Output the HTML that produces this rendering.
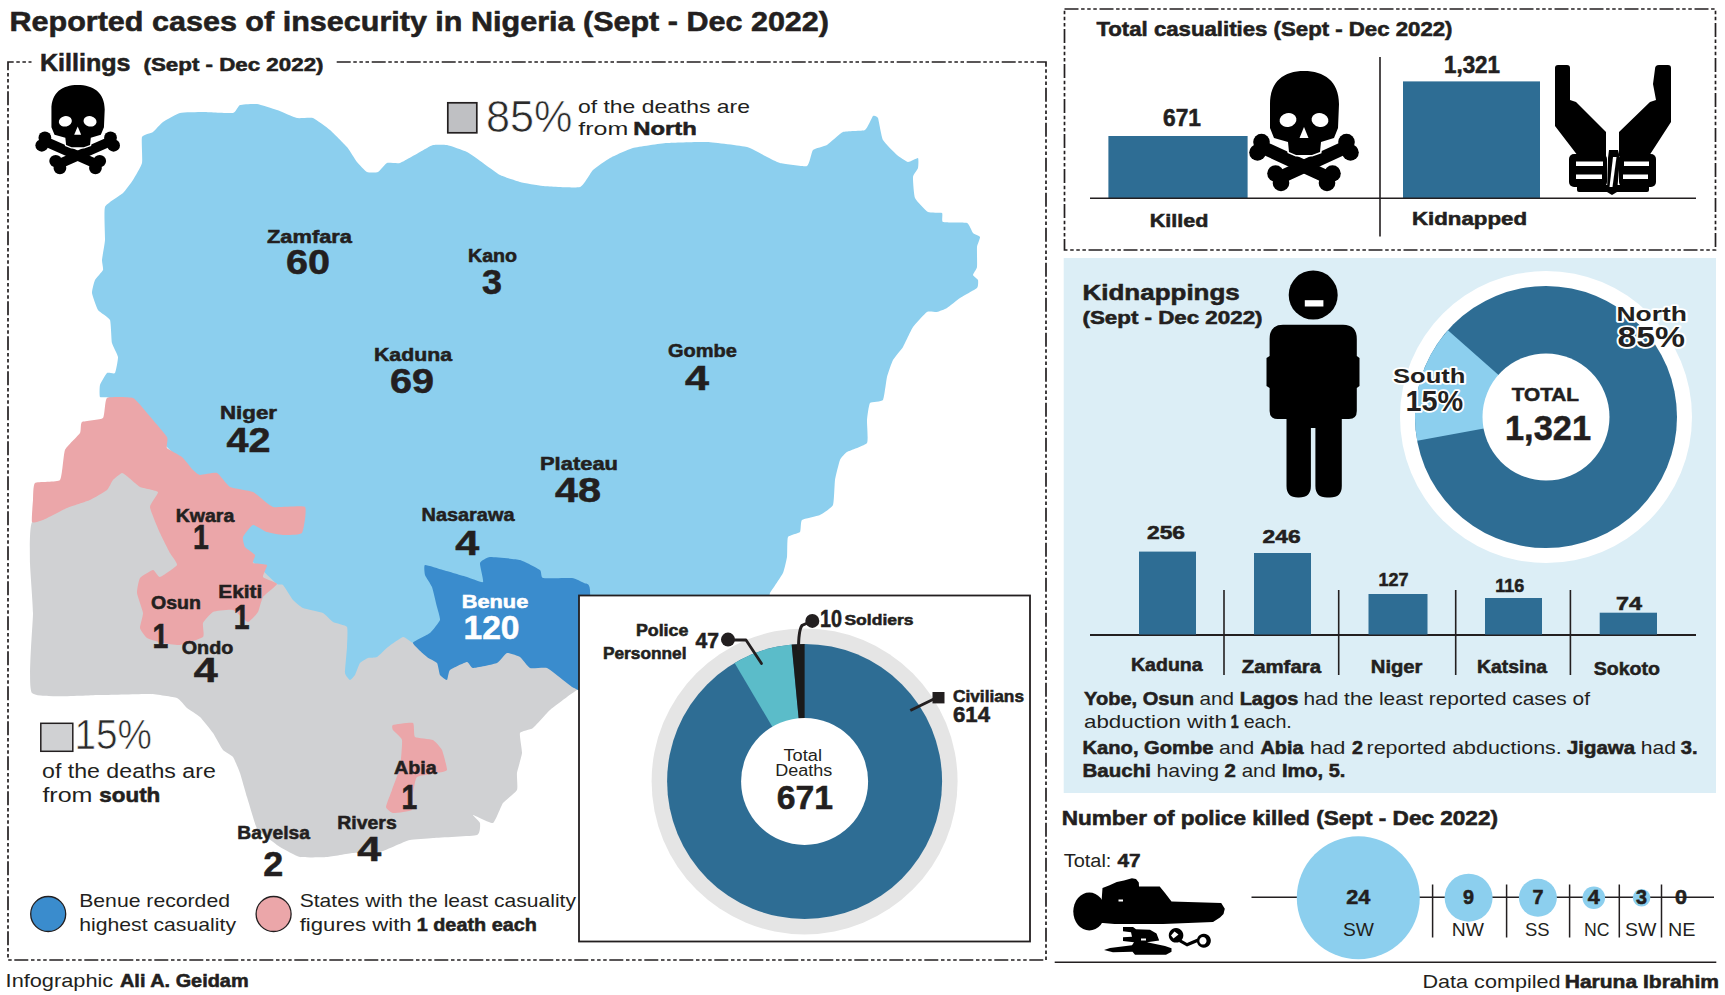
<!DOCTYPE html>
<html lang="en"><head><meta charset="utf-8"><title>Reported cases of insecurity in Nigeria (Sept - Dec 2022)</title>
<style>
html,body{margin:0;padding:0;background:#fff;}
body{width:1725px;height:995px;overflow:hidden;font-family:"Liberation Sans", sans-serif;}
svg{display:block;font-family:"Liberation Sans", sans-serif;}
</style></head><body>
<svg width="1725" height="995" viewBox="0 0 1725 995">
<rect width="1725" height="995" fill="#fff"/>
<text x="9.5" y="30.7" font-size="27.5" font-weight="bold" fill="#231f20" text-anchor="start" textLength="819.5" lengthAdjust="spacingAndGlyphs" stroke="#231f20" stroke-width="0.55">Reported cases of insecurity in Nigeria (Sept - Dec 2022)</text>
<path d="M336.7,62 H1046 V960 H8 V62 H31.5" stroke="#231f20" stroke-width="1.7" stroke-dasharray="14 2.6 3.5 2.6 3.5 2.6 3.5 2.7" fill="none"/>
<text x="40.0" y="70.7" font-size="23.5" font-weight="bold" fill="#231f20" text-anchor="start" textLength="90.5" lengthAdjust="spacingAndGlyphs" stroke="#231f20" stroke-width="0.55">Killings</text>
<text x="143.5" y="70.8" font-size="18.5" font-weight="bold" fill="#231f20" text-anchor="start" textLength="180.0" lengthAdjust="spacingAndGlyphs" stroke="#231f20" stroke-width="0.55">(Sept - Dec 2022)</text>
<path d="M32.0,522.0 C29.1,528.1 29.9,556.3 30.0,563.0 C30.1,569.7 32.9,603.5 33.0,613.0 C33.1,622.5 27.1,687.0 32.0,693.0 C36.9,699.0 91.3,694.9 100.0,695.0 C108.7,695.1 144.4,693.8 150.0,694.0 C155.6,694.2 174.3,697.0 177.0,698.0 C179.7,699.0 185.3,706.6 187.0,708.0 C188.7,709.4 198.1,715.2 200.0,717.0 C201.9,718.8 211.3,730.6 213.0,733.0 C214.7,735.4 221.5,748.2 223.0,750.0 C224.5,751.8 231.8,755.3 233.0,757.0 C234.2,758.7 239.0,770.1 240.0,773.0 C241.0,775.9 246.0,793.8 247.0,797.0 C248.0,800.2 252.2,814.6 253.0,817.0 C253.8,819.4 256.0,827.8 258.0,830.0 C260.0,832.2 276.9,845.0 280.0,847.0 C283.1,849.0 296.6,856.3 300.0,857.0 C303.4,857.7 323.1,857.3 327.0,857.0 C330.9,856.7 349.1,853.4 353.0,853.0 C356.9,852.6 376.8,852.6 380.0,852.0 C383.2,851.4 394.8,845.9 397.0,845.0 C399.2,844.1 407.4,840.5 410.0,840.0 C412.6,839.5 428.1,838.4 433.0,838.0 C437.9,837.6 473.6,836.1 477.0,835.0 C480.4,833.9 480.3,824.5 480.0,823.0 C479.7,821.5 472.0,815.0 473.0,815.0 C474.0,815.0 490.8,823.9 493.0,823.0 C495.2,822.1 501.2,805.4 503.0,803.0 C504.8,800.6 516.0,792.2 517.0,790.0 C518.0,787.8 516.6,775.7 517.0,773.0 C517.4,770.3 521.8,755.9 522.0,753.0 C522.2,750.1 519.2,734.8 520.0,733.0 C520.8,731.2 530.8,729.7 533.0,728.0 C535.2,726.3 547.5,712.3 550.0,710.0 C552.5,707.7 565.0,698.5 567.0,697.0 C569.0,695.5 575.7,690.7 577.0,690.0 C578.3,689.3 584.4,691.7 585.0,688.0 C585.6,684.3 591.2,646.5 585.0,640.0 C578.8,633.5 518.7,605.9 500.0,600.0 C481.3,594.1 349.1,567.3 330.0,560.0 C310.9,552.7 255.4,508.8 240.0,500.0 C224.6,491.2 132.5,441.5 120.0,440.0 C107.5,438.5 76.5,474.0 70.0,480.0 C63.5,486.0 34.9,515.9 32.0,522.0Z" fill="#d0d1d3"/>
<path d="M100.0,397.0 C99.3,396.0 99.5,386.8 100.0,385.0 C100.5,383.2 105.9,373.9 107.0,373.0 C108.1,372.1 114.2,374.2 115.0,373.0 C115.8,371.8 118.2,359.2 118.0,357.0 C117.8,354.8 112.6,345.7 112.0,343.0 C111.4,340.3 111.0,322.4 110.0,320.0 C109.0,317.6 99.3,312.0 98.0,310.0 C96.7,308.0 92.2,295.2 92.0,293.0 C91.8,290.8 94.2,281.7 95.0,280.0 C95.8,278.3 102.5,271.5 103.0,270.0 C103.5,268.5 101.9,262.2 102.0,260.0 C102.1,257.8 104.8,243.9 105.0,240.0 C105.2,236.1 103.7,210.4 105.0,207.0 C106.3,203.6 120.9,195.0 123.0,193.0 C125.1,191.0 131.6,182.2 133.0,180.0 C134.4,177.8 141.3,166.2 142.0,163.0 C142.7,159.8 141.2,139.3 142.0,137.0 C142.8,134.7 151.5,133.1 153.0,132.0 C154.5,130.9 161.0,123.4 163.0,122.0 C165.0,120.6 177.1,113.7 180.0,113.0 C182.9,112.3 199.1,112.0 203.0,112.0 C206.9,112.0 230.3,113.5 233.0,113.0 C235.7,112.5 238.2,105.7 240.0,105.0 C241.8,104.3 254.3,103.6 257.0,104.0 C259.7,104.4 274.1,109.0 277.0,110.0 C279.9,111.0 294.4,117.4 297.0,118.0 C299.6,118.6 310.6,117.1 313.0,118.0 C315.4,118.9 327.5,127.9 330.0,130.0 C332.5,132.1 345.0,144.7 347.0,147.0 C349.0,149.3 355.5,160.2 357.0,162.0 C358.5,163.8 365.5,171.3 367.0,172.0 C368.5,172.7 376.5,172.7 378.0,172.0 C379.5,171.3 385.4,163.7 387.0,163.0 C388.6,162.3 397.6,163.8 400.0,163.0 C402.4,162.2 417.6,153.3 420.0,152.0 C422.4,150.7 431.0,145.5 433.0,145.0 C435.0,144.5 444.5,144.5 447.0,145.0 C449.5,145.5 464.4,150.7 467.0,152.0 C469.6,153.3 480.6,161.3 483.0,163.0 C485.4,164.7 497.3,173.6 500.0,175.0 C502.7,176.4 516.8,181.2 520.0,182.0 C523.2,182.8 538.6,185.6 543.0,186.0 C547.4,186.4 576.3,188.2 580.0,187.0 C583.7,185.8 590.8,172.1 593.0,170.0 C595.2,167.9 607.1,159.6 610.0,158.0 C612.9,156.4 628.8,149.1 633.0,148.0 C637.2,146.9 661.6,143.4 667.0,143.0 C672.4,142.6 701.1,141.7 707.0,142.0 C712.9,142.3 742.6,145.9 747.0,147.0 C751.4,148.1 764.6,155.8 767.0,157.0 C769.4,158.2 777.1,162.3 780.0,163.0 C782.9,163.7 804.6,167.0 807.0,166.0 C809.4,165.0 811.5,151.5 813.0,150.0 C814.5,148.5 824.8,146.3 827.0,145.0 C829.2,143.7 840.2,133.1 843.0,132.0 C845.8,130.9 862.8,131.2 865.0,130.0 C867.2,128.8 872.0,116.9 873.0,116.0 C874.0,115.1 877.3,116.2 878.0,118.0 C878.7,119.8 881.6,137.3 883.0,140.0 C884.4,142.7 895.2,153.4 897.0,155.0 C898.8,156.6 906.5,161.8 908.0,162.0 C909.5,162.2 917.3,157.6 918.0,158.0 C918.7,158.4 918.4,166.6 918.0,168.0 C917.6,169.4 913.2,174.8 913.0,177.0 C912.8,179.2 913.9,195.4 915.0,198.0 C916.1,200.6 926.0,210.9 928.0,212.0 C930.0,213.1 940.9,212.3 942.0,213.0 C943.1,213.7 941.2,221.3 943.0,222.0 C944.8,222.7 964.8,222.2 967.0,223.0 C969.2,223.8 972.0,232.0 973.0,233.0 C974.0,234.0 979.7,236.0 980.0,237.0 C980.3,238.0 977.2,244.8 977.0,247.0 C976.8,249.2 977.3,264.9 977.0,267.0 C976.7,269.1 972.9,274.0 973.0,275.0 C973.1,276.0 977.7,279.0 978.0,280.0 C978.3,281.0 978.3,286.7 977.0,288.0 C975.7,289.3 962.2,296.5 960.0,298.0 C957.8,299.5 948.7,307.0 947.0,308.0 C945.3,309.0 938.5,311.7 937.0,312.0 C935.5,312.3 928.8,310.9 927.0,312.0 C925.2,313.1 914.8,324.4 913.0,327.0 C911.2,329.6 904.5,344.6 903.0,347.0 C901.5,349.4 894.2,357.8 893.0,360.0 C891.8,362.2 887.7,374.1 887.0,377.0 C886.3,379.9 884.2,398.1 883.0,400.0 C881.8,401.9 871.2,401.5 870.0,403.0 C868.8,404.5 867.2,417.1 867.0,420.0 C866.8,422.9 868.5,440.7 867.0,443.0 C865.5,445.3 849.0,450.8 847.0,452.0 C845.0,453.2 840.9,457.9 840.0,460.0 C839.1,462.1 835.5,476.7 835.0,480.0 C834.5,483.3 834.1,502.4 833.0,505.0 C831.9,507.6 822.3,513.9 820.0,515.0 C817.7,516.1 803.5,518.8 802.0,520.0 C800.5,521.2 801.0,530.8 800.0,532.0 C799.0,533.2 789.0,535.2 788.0,537.0 C787.0,538.8 787.4,554.4 787.0,557.0 C786.6,559.6 784.2,570.4 783.0,573.0 C781.8,575.6 771.7,590.3 770.0,593.0 C768.3,595.7 773.2,606.6 760.0,610.0 C746.8,613.4 614.2,637.1 590.0,640.0 C565.8,642.9 443.0,649.8 430.0,650.0 C417.0,650.2 415.0,644.0 413.0,643.0 C411.0,642.0 404.8,636.7 403.0,637.0 C401.2,637.3 389.9,645.5 388.0,647.0 C386.1,648.5 378.5,656.2 377.0,657.0 C375.5,657.8 369.2,657.6 368.0,658.0 C366.8,658.4 361.0,661.8 360.0,663.0 C359.0,664.2 355.7,673.8 355.0,675.0 C354.3,676.2 350.7,680.1 350.0,680.0 C349.3,679.9 345.2,675.4 345.0,673.0 C344.8,670.6 346.9,650.4 347.0,647.0 C347.1,643.6 348.0,628.8 347.0,627.0 C346.0,625.2 334.8,623.0 333.0,622.0 C331.2,621.0 325.2,614.0 323.0,613.0 C320.8,612.0 305.2,609.0 303.0,608.0 C300.8,607.0 294.5,601.7 293.0,600.0 C291.5,598.3 284.2,586.2 283.0,585.0 C281.8,583.8 278.5,585.1 277.0,584.0 C275.5,582.9 264.7,572.5 262.0,570.0 C259.3,567.5 241.8,552.6 240.0,550.0 C238.2,547.4 238.7,538.7 238.0,535.0 C237.3,531.3 232.8,504.0 230.0,500.0 C227.2,496.0 206.6,485.9 200.0,480.0 C193.4,474.1 146.6,426.0 140.0,420.0 C133.4,414.0 112.9,399.7 110.0,398.0 C107.1,396.3 100.7,398.0 100.0,397.0Z" fill="#8ccfee"/>
<path d="M107.0,398.0 C109.2,396.5 130.1,396.9 133.0,398.0 C135.9,399.1 144.5,410.1 147.0,413.0 C149.5,415.9 165.5,434.4 167.0,437.0 C168.5,439.6 165.9,446.5 167.0,448.0 C168.1,449.5 180.1,455.4 182.0,457.0 C183.9,458.6 191.7,468.7 193.0,470.0 C194.3,471.3 198.2,474.8 200.0,475.0 C201.8,475.2 214.8,472.1 217.0,473.0 C219.2,473.9 227.4,485.6 230.0,487.0 C232.6,488.4 249.8,490.5 253.0,492.0 C256.2,493.5 269.2,505.9 273.0,507.0 C276.8,508.1 302.9,505.1 305.0,507.0 C307.1,508.9 303.6,530.9 302.0,533.0 C300.4,535.1 285.6,535.1 283.0,535.0 C280.4,534.9 269.2,532.7 267.0,532.0 C264.8,531.3 254.8,524.6 253.0,525.0 C251.2,525.4 243.6,535.4 243.0,537.0 C242.4,538.6 244.1,545.7 245.0,547.0 C245.9,548.3 254.4,553.8 255.0,555.0 C255.6,556.2 252.1,562.3 253.0,563.0 C253.9,563.7 266.3,564.0 267.0,565.0 C267.7,566.0 262.3,575.6 263.0,577.0 C263.7,578.4 277.0,582.5 277.0,584.0 C277.0,585.5 264.4,594.9 263.0,597.0 C261.6,599.1 259.1,610.2 258.0,612.0 C256.9,613.8 249.8,622.1 248.0,622.0 C246.2,621.9 235.6,610.7 233.0,610.0 C230.4,609.3 215.2,611.0 213.0,612.0 C210.8,613.0 203.7,621.2 203.0,623.0 C202.3,624.8 204.7,635.4 203.0,637.0 C201.3,638.6 182.9,644.6 180.0,645.0 C177.1,645.4 165.4,643.5 163.0,643.0 C160.6,642.5 148.7,639.1 147.0,638.0 C145.3,636.9 140.3,629.8 140.0,628.0 C139.7,626.2 143.2,615.6 143.0,613.0 C142.8,610.4 137.2,595.6 137.0,593.0 C136.8,590.4 138.8,579.7 140.0,578.0 C141.2,576.3 151.5,570.1 153.0,570.0 C154.5,569.9 158.2,577.4 160.0,577.0 C161.8,576.6 176.3,566.8 177.0,565.0 C177.7,563.2 171.2,555.3 170.0,553.0 C168.8,550.7 161.5,536.4 160.0,533.0 C158.5,529.6 150.1,510.0 150.0,507.0 C149.9,504.0 158.7,493.5 158.0,492.0 C157.3,490.5 142.2,488.1 140.0,487.0 C137.8,485.9 129.3,478.0 128.0,477.0 C126.7,476.0 123.1,472.8 122.0,473.0 C120.9,473.2 114.1,478.8 113.0,480.0 C111.9,481.2 108.7,488.5 107.0,490.0 C105.3,491.5 92.9,498.7 90.0,500.0 C87.1,501.3 70.4,506.5 67.0,508.0 C63.6,509.5 45.6,519.0 43.0,520.0 C40.4,521.0 32.7,523.5 32.0,522.0 C31.3,520.5 32.8,502.9 33.0,500.0 C33.2,497.1 33.0,484.5 35.0,483.0 C37.0,481.5 57.8,482.4 60.0,480.0 C62.2,477.6 63.5,453.4 65.0,450.0 C66.5,446.6 78.8,435.1 80.0,433.0 C81.2,430.9 80.3,423.1 82.0,422.0 C83.7,420.9 101.2,419.8 103.0,418.0 C104.8,416.2 104.8,399.5 107.0,398.0Z" fill="#eba6a9"/>
<path d="M393.0,725.0 C394.5,724.5 411.4,722.1 413.0,723.0 C414.6,723.9 413.5,735.8 415.0,737.0 C416.5,738.2 431.0,739.0 433.0,740.0 C435.0,741.0 441.0,747.8 442.0,750.0 C443.0,752.2 447.4,768.3 447.0,770.0 C446.6,771.7 439.2,772.5 437.0,773.0 C434.8,773.5 418.8,775.5 417.0,777.0 C415.2,778.5 413.4,790.6 413.0,793.0 C412.6,795.4 413.5,808.5 412.0,810.0 C410.5,811.5 394.9,813.2 393.0,813.0 C391.1,812.8 386.1,808.7 386.0,807.0 C385.9,805.3 391.0,792.9 392.0,790.0 C393.0,787.1 399.3,770.7 400.0,767.0 C400.7,763.3 402.5,742.7 402.0,740.0 C401.5,737.3 393.7,731.1 393.0,730.0 C392.3,728.9 391.5,725.5 393.0,725.0Z" fill="#eba6a9"/>
<path d="M425.0,565.0 C426.3,564.6 439.9,569.1 443.0,570.0 C446.1,570.9 464.1,576.1 467.0,577.0 C469.9,577.9 482.0,583.0 483.0,582.0 C484.0,581.0 479.5,564.8 480.0,563.0 C480.5,561.2 487.1,557.2 490.0,557.0 C492.9,556.8 516.3,559.0 520.0,560.0 C523.7,561.0 538.3,568.7 540.0,570.0 C541.7,571.3 540.7,577.4 543.0,578.0 C545.3,578.6 569.0,577.6 572.0,578.0 C575.0,578.4 582.7,582.1 584.0,583.0 C585.3,583.9 589.6,582.2 590.0,590.0 C590.4,597.8 591.2,682.8 590.0,690.0 C588.8,697.2 576.0,688.7 574.0,688.0 C572.0,687.3 565.0,681.5 563.0,680.0 C561.0,678.5 549.4,668.9 547.0,668.0 C544.6,667.1 532.0,668.8 530.0,668.0 C528.0,667.2 521.7,658.1 520.0,657.0 C518.3,655.9 508.7,652.6 507.0,653.0 C505.3,653.4 499.5,661.9 497.0,663.0 C494.5,664.1 475.2,668.1 473.0,668.0 C470.8,667.9 468.7,661.9 467.0,662.0 C465.3,662.1 451.5,668.7 450.0,670.0 C448.5,671.3 447.7,679.6 447.0,680.0 C446.3,680.4 440.7,676.2 440.0,675.0 C439.3,673.8 438.0,664.3 437.0,663.0 C436.0,661.7 428.8,658.5 427.0,657.0 C425.2,655.5 412.8,644.8 413.0,643.0 C413.2,641.2 428.0,634.7 430.0,633.0 C432.0,631.3 439.5,621.9 440.0,620.0 C440.5,618.1 437.6,609.4 437.0,607.0 C436.4,604.6 432.9,589.3 432.0,587.0 C431.1,584.7 425.5,576.6 425.0,575.0 C424.5,573.4 423.7,565.4 425.0,565.0Z" fill="#3a8ccd"/>
<text x="267.0" y="243.1" font-size="19" font-weight="bold" fill="#231f20" text-anchor="start" textLength="85.0" lengthAdjust="spacingAndGlyphs" stroke="#231f20" stroke-width="0.55">Zamfara</text>
<text x="286.0" y="273.5" font-size="35.5" font-weight="bold" fill="#231f20" text-anchor="start" textLength="44.0" lengthAdjust="spacingAndGlyphs" stroke="#231f20" stroke-width="0.55">60</text>
<text x="468.0" y="261.6" font-size="18" font-weight="bold" fill="#231f20" text-anchor="start" textLength="49.0" lengthAdjust="spacingAndGlyphs" stroke="#231f20" stroke-width="0.55">Kano</text>
<text x="482.0" y="294.0" font-size="35.5" font-weight="bold" fill="#231f20" text-anchor="start" textLength="20.0" lengthAdjust="spacingAndGlyphs" stroke="#231f20" stroke-width="0.55">3</text>
<text x="374.0" y="360.6" font-size="19" font-weight="bold" fill="#231f20" text-anchor="start" textLength="78.0" lengthAdjust="spacingAndGlyphs" stroke="#231f20" stroke-width="0.55">Kaduna</text>
<text x="390.0" y="393.0" font-size="35.5" font-weight="bold" fill="#231f20" text-anchor="start" textLength="44.0" lengthAdjust="spacingAndGlyphs" stroke="#231f20" stroke-width="0.55">69</text>
<text x="668.0" y="356.6" font-size="19" font-weight="bold" fill="#231f20" text-anchor="start" textLength="69.0" lengthAdjust="spacingAndGlyphs" stroke="#231f20" stroke-width="0.55">Gombe</text>
<text x="685.0" y="389.5" font-size="35.5" font-weight="bold" fill="#231f20" text-anchor="start" textLength="24.0" lengthAdjust="spacingAndGlyphs" stroke="#231f20" stroke-width="0.55">4</text>
<text x="220.0" y="419.0" font-size="19" font-weight="bold" fill="#231f20" text-anchor="start" textLength="57.0" lengthAdjust="spacingAndGlyphs" stroke="#231f20" stroke-width="0.55">Niger</text>
<text x="226.5" y="452.0" font-size="35.5" font-weight="bold" fill="#231f20" text-anchor="start" textLength="44.0" lengthAdjust="spacingAndGlyphs" stroke="#231f20" stroke-width="0.55">42</text>
<text x="540.0" y="469.6" font-size="19" font-weight="bold" fill="#231f20" text-anchor="start" textLength="78.0" lengthAdjust="spacingAndGlyphs" stroke="#231f20" stroke-width="0.55">Plateau</text>
<text x="555.0" y="502.0" font-size="35.5" font-weight="bold" fill="#231f20" text-anchor="start" textLength="46.0" lengthAdjust="spacingAndGlyphs" stroke="#231f20" stroke-width="0.55">48</text>
<text x="175.7" y="522.0" font-size="19" font-weight="bold" fill="#231f20" text-anchor="start" textLength="58.6" lengthAdjust="spacingAndGlyphs" stroke="#231f20" stroke-width="0.55">Kwara</text>
<text x="201.0" y="549.5" font-size="35.5" font-weight="bold" fill="#231f20" stroke="#231f20" stroke-width="0.6" text-anchor="middle" transform="translate(201.0,0) scale(0.8,1) translate(-201.0,0)">1</text>
<text x="421.5" y="521.2" font-size="19" font-weight="bold" fill="#231f20" text-anchor="start" textLength="93.0" lengthAdjust="spacingAndGlyphs" stroke="#231f20" stroke-width="0.55">Nasarawa</text>
<text x="455.3" y="555.3" font-size="35.5" font-weight="bold" fill="#231f20" text-anchor="start" textLength="24.0" lengthAdjust="spacingAndGlyphs" stroke="#231f20" stroke-width="0.55">4</text>
<text x="151.0" y="608.6" font-size="19" font-weight="bold" fill="#231f20" text-anchor="start" textLength="50.0" lengthAdjust="spacingAndGlyphs" stroke="#231f20" stroke-width="0.55">Osun</text>
<text x="160.3" y="648.0" font-size="35.5" font-weight="bold" fill="#231f20" stroke="#231f20" stroke-width="0.6" text-anchor="middle" transform="translate(160.3,0) scale(0.8,1) translate(-160.3,0)">1</text>
<text x="218.3" y="598.2" font-size="19" font-weight="bold" fill="#231f20" text-anchor="start" textLength="44.0" lengthAdjust="spacingAndGlyphs" stroke="#231f20" stroke-width="0.55">Ekiti</text>
<text x="241.7" y="628.6" font-size="35.5" font-weight="bold" fill="#231f20" stroke="#231f20" stroke-width="0.6" text-anchor="middle" transform="translate(241.7,0) scale(0.8,1) translate(-241.7,0)">1</text>
<text x="181.7" y="653.6" font-size="19" font-weight="bold" fill="#231f20" text-anchor="start" textLength="51.6" lengthAdjust="spacingAndGlyphs" stroke="#231f20" stroke-width="0.55">Ondo</text>
<text x="193.7" y="681.8" font-size="35.5" font-weight="bold" fill="#231f20" text-anchor="start" textLength="24.0" lengthAdjust="spacingAndGlyphs" stroke="#231f20" stroke-width="0.55">4</text>
<text x="461.7" y="608.4" font-size="19" font-weight="bold" fill="#fff" text-anchor="start" textLength="66.6" lengthAdjust="spacingAndGlyphs" stroke="#fff" stroke-width="0.55">Benue</text>
<text x="463.5" y="638.6" font-size="34" font-weight="bold" fill="#fff" text-anchor="start" textLength="56.0" lengthAdjust="spacingAndGlyphs" stroke="#fff" stroke-width="0.55">120</text>
<text x="394.0" y="773.8" font-size="19" font-weight="bold" fill="#231f20" text-anchor="start" textLength="42.7" lengthAdjust="spacingAndGlyphs" stroke="#231f20" stroke-width="0.55">Abia</text>
<text x="409.3" y="809.3" font-size="35.5" font-weight="bold" fill="#231f20" stroke="#231f20" stroke-width="0.6" text-anchor="middle" transform="translate(409.3,0) scale(0.8,1) translate(-409.3,0)">1</text>
<text x="337.3" y="829.4" font-size="19" font-weight="bold" fill="#231f20" text-anchor="start" textLength="59.4" lengthAdjust="spacingAndGlyphs" stroke="#231f20" stroke-width="0.55">Rivers</text>
<text x="357.3" y="861.4" font-size="35.5" font-weight="bold" fill="#231f20" text-anchor="start" textLength="24.0" lengthAdjust="spacingAndGlyphs" stroke="#231f20" stroke-width="0.55">4</text>
<text x="237.3" y="839.4" font-size="19" font-weight="bold" fill="#231f20" text-anchor="start" textLength="72.7" lengthAdjust="spacingAndGlyphs" stroke="#231f20" stroke-width="0.55">Bayelsa</text>
<text x="263.3" y="876.3" font-size="35.5" font-weight="bold" fill="#231f20" text-anchor="start" textLength="20.0" lengthAdjust="spacingAndGlyphs" stroke="#231f20" stroke-width="0.55">2</text>
<rect x="447.8" y="102.8" width="29" height="30" fill="#bfc0c3" stroke="#231f20" stroke-width="1.7"/>
<text x="486.0" y="131.6" font-size="45" font-weight="normal" fill="#2b2b2b" text-anchor="start" textLength="86.5" lengthAdjust="spacingAndGlyphs" stroke="#fff" stroke-width="0.7">85%</text>
<text x="578.0" y="113.0" font-size="19" font-weight="normal" fill="#231f20" text-anchor="start" textLength="172.0" lengthAdjust="spacingAndGlyphs">of the deaths are</text>
<text x="578.3" y="135.0" font-size="19" font-weight="normal" fill="#231f20" text-anchor="start" textLength="50.0" lengthAdjust="spacingAndGlyphs">from</text>
<text x="633.3" y="135.0" font-size="19" font-weight="bold" fill="#231f20" text-anchor="start" textLength="63.4" lengthAdjust="spacingAndGlyphs" stroke="#231f20" stroke-width="0.55">North</text>
<rect x="40.8" y="723.3" width="32" height="28" fill="#d0d1d3" stroke="#231f20" stroke-width="1.5"/>
<text x="74.5" y="749.4" font-size="43" font-weight="normal" fill="#2b2b2b" text-anchor="start" textLength="77.5" lengthAdjust="spacingAndGlyphs" stroke="#fff" stroke-width="0.7">15%</text>
<text x="42.0" y="778.4" font-size="20" font-weight="normal" fill="#231f20" text-anchor="start" textLength="173.8" lengthAdjust="spacingAndGlyphs">of the deaths are</text>
<text x="42.4" y="802.3" font-size="20" font-weight="normal" fill="#231f20" text-anchor="start" textLength="50.1" lengthAdjust="spacingAndGlyphs">from</text>
<text x="99.3" y="802.3" font-size="20" font-weight="bold" fill="#231f20" text-anchor="start" textLength="61.0" lengthAdjust="spacingAndGlyphs" stroke="#231f20" stroke-width="0.55">south</text>
<circle cx="48.2" cy="914" r="17.5" fill="#3a8ccd" stroke="#231f20" stroke-width="1.3"/>
<text x="79.2" y="906.9" font-size="19" font-weight="normal" fill="#231f20" text-anchor="start" textLength="150.8" lengthAdjust="spacingAndGlyphs">Benue recorded</text>
<text x="79.2" y="930.8" font-size="19" font-weight="normal" fill="#231f20" text-anchor="start" textLength="156.8" lengthAdjust="spacingAndGlyphs">highest casuality</text>
<circle cx="273.6" cy="914" r="17.5" fill="#eba6a9" stroke="#231f20" stroke-width="1.3"/>
<text x="299.7" y="906.9" font-size="19" font-weight="normal" fill="#231f20" text-anchor="start" textLength="276.3" lengthAdjust="spacingAndGlyphs">States with the least casuality</text>
<text x="299.7" y="930.8" font-size="19" font-weight="normal" fill="#231f20" text-anchor="start" textLength="112.0" lengthAdjust="spacingAndGlyphs">figures with</text>
<text x="416.7" y="930.8" font-size="19" font-weight="bold" fill="#231f20" text-anchor="start" textLength="120.2" lengthAdjust="spacingAndGlyphs" stroke="#231f20" stroke-width="0.55">1 death each</text>
<text x="5.6" y="986.8" font-size="18.5" font-weight="normal" fill="#231f20" text-anchor="start" textLength="107.6" lengthAdjust="spacingAndGlyphs">Infographic</text>
<text x="120.0" y="986.8" font-size="18.5" font-weight="bold" fill="#231f20" text-anchor="start" textLength="128.6" lengthAdjust="spacingAndGlyphs" stroke="#231f20" stroke-width="0.55">Ali A. Geidam</text>
<g transform="translate(36,85) scale(0.772,0.742)" fill="#000">
<g><line x1="14" y1="77" x2="77" y2="106" stroke="#000" stroke-width="13" stroke-linecap="round"/><circle cx="11.5" cy="71" r="8.3"/><circle cx="7.5" cy="81.5" r="8.3"/><circle cx="77" cy="112" r="8.3"/><circle cx="82.5" cy="102.5" r="8.3"/></g>
<g transform="translate(108,0) scale(-1,1)"><line x1="14" y1="77" x2="77" y2="106" stroke="#000" stroke-width="13" stroke-linecap="round"/><circle cx="11.5" cy="71" r="8.3"/><circle cx="7.5" cy="81.5" r="8.3"/><circle cx="77" cy="112" r="8.3"/><circle cx="82.5" cy="102.5" r="8.3"/></g>
<path d="M54,0 C74,0 89,10 89,33 L88,57 L84,67 L71,71 L70,81 L62,84 L46,84 L39,81 L38,71 L24,67 L20,57 L20,33 C20,10 34,0 54,0 Z" stroke="#fff" stroke-width="3.2" paint-order="stroke"/>
<ellipse cx="38" cy="49" rx="8.5" ry="7" fill="#fff" transform="rotate(-12 38 49)"/>
<ellipse cx="70" cy="49" rx="8.5" ry="7" fill="#fff" transform="rotate(12 70 49)"/>
<polygon points="54,56 49.5,67 58.5,67" fill="#fff"/>
</g>
<rect x="579" y="595.5" width="451" height="346" fill="#fff" stroke="#231f20" stroke-width="1.8"/>
<circle cx="804.6" cy="781.4" r="153" fill="#e5e5e5"/>
<circle cx="804.6" cy="781.4" r="137.5" fill="#2e6d94"/>
<path d="M734.61,663.05 A137.5,137.5 0 0 1 791.66,644.51 L804.60,781.40 A0,0 0 0 0 804.60,781.40 Z" fill="#5bbcc9"/>
<path d="M791.66,644.51 A137.5,137.5 0 0 1 804.60,643.90 L804.60,781.40 A0,0 0 0 0 804.60,781.40 Z" fill="#1a1a1a"/>
<circle cx="804.6" cy="781.4" r="63.5" fill="#fff"/>
<text x="783.5" y="760.5" font-size="16" font-weight="normal" fill="#231f20" text-anchor="start" textLength="38.5" lengthAdjust="spacingAndGlyphs">Total</text>
<text x="775.2" y="776.4" font-size="16" font-weight="normal" fill="#231f20" text-anchor="start" textLength="57.0" lengthAdjust="spacingAndGlyphs">Deaths</text>
<text x="776.7" y="808.8" font-size="34" font-weight="bold" fill="#231f20" text-anchor="start" textLength="56.3" lengthAdjust="spacingAndGlyphs" stroke="#231f20" stroke-width="0.55">671</text>
<text x="635.9" y="636.3" font-size="16" font-weight="bold" fill="#231f20" text-anchor="start" textLength="52.5" lengthAdjust="spacingAndGlyphs" stroke="#231f20" stroke-width="0.55">Police</text>
<text x="603.0" y="659.0" font-size="16" font-weight="bold" fill="#231f20" text-anchor="start" textLength="83.5" lengthAdjust="spacingAndGlyphs" stroke="#231f20" stroke-width="0.55">Personnel</text>
<text x="695.5" y="648.3" font-size="21.5" font-weight="bold" fill="#231f20" text-anchor="start" textLength="23.5" lengthAdjust="spacingAndGlyphs" stroke="#231f20" stroke-width="0.55">47</text>
<circle cx="728" cy="639.6" r="7" fill="#231f20"/>
<polyline points="728,640 746,640 761.5,663.5" fill="none" stroke="#231f20" stroke-width="2.8" stroke-linejoin="round" stroke-linecap="round"/>
<circle cx="812.3" cy="620.9" r="7" fill="#231f20"/>
<path d="M812,621 L802,625.5 Q798.5,630 798.5,650" fill="none" stroke="#231f20" stroke-width="3"/>
<text x="820.0" y="626.6" font-size="23" font-weight="bold" fill="#231f20" text-anchor="start" textLength="22.0" lengthAdjust="spacingAndGlyphs" stroke="#231f20" stroke-width="0.55">10</text>
<text x="844.4" y="624.8" font-size="15.5" font-weight="bold" fill="#231f20" text-anchor="start" textLength="69.2" lengthAdjust="spacingAndGlyphs" stroke="#231f20" stroke-width="0.55">Soldiers</text>
<rect x="932.5" y="692" width="12" height="11.4" fill="#231f20"/>
<line x1="938" y1="697" x2="910.3" y2="710.5" stroke="#231f20" stroke-width="3"/>
<text x="953.0" y="701.8" font-size="16.5" font-weight="bold" fill="#231f20" text-anchor="start" textLength="71.0" lengthAdjust="spacingAndGlyphs" stroke="#231f20" stroke-width="0.55">Civilians</text>
<text x="953.0" y="722.3" font-size="22.5" font-weight="bold" fill="#231f20" text-anchor="start" textLength="37.0" lengthAdjust="spacingAndGlyphs" stroke="#231f20" stroke-width="0.55">614</text>
<path d="M1064.5,9 H1715.5 V250 H1064.5 Z" stroke="#231f20" stroke-width="1.7" stroke-dasharray="14 2.6 3.5 2.6 3.5 2.6 3.5 2.7" fill="none"/>
<text x="1096.4" y="36.4" font-size="19.5" font-weight="bold" fill="#231f20" text-anchor="start" textLength="356.1" lengthAdjust="spacingAndGlyphs" stroke="#231f20" stroke-width="0.55">Total casualities (Sept - Dec 2022)</text>
<rect x="1108.4" y="136" width="139.2" height="62" fill="#2e6d94"/>
<rect x="1403" y="81.4" width="137" height="116.6" fill="#2e6d94"/>
<line x1="1090" y1="198.2" x2="1696" y2="198.2" stroke="#231f20" stroke-width="1.6"/>
<line x1="1380" y1="57" x2="1380" y2="236.5" stroke="#231f20" stroke-width="1.6"/>
<text x="1163.0" y="126.0" font-size="23.5" font-weight="bold" fill="#231f20" text-anchor="start" textLength="38.0" lengthAdjust="spacingAndGlyphs" stroke="#231f20" stroke-width="0.55">671</text>
<text x="1444.0" y="73.0" font-size="23.5" font-weight="bold" fill="#231f20" text-anchor="start" textLength="56.0" lengthAdjust="spacingAndGlyphs" stroke="#231f20" stroke-width="0.55">1,321</text>
<text x="1149.8" y="226.7" font-size="19" font-weight="bold" fill="#231f20" text-anchor="start" textLength="58.7" lengthAdjust="spacingAndGlyphs" stroke="#231f20" stroke-width="0.55">Killed</text>
<text x="1412.0" y="224.8" font-size="19" font-weight="bold" fill="#231f20" text-anchor="start" textLength="115.0" lengthAdjust="spacingAndGlyphs" stroke="#231f20" stroke-width="0.55">Kidnapped</text>
<g transform="translate(1250,71) scale(1.0,1.0)" fill="#000">
<g><line x1="14" y1="77" x2="77" y2="106" stroke="#000" stroke-width="13" stroke-linecap="round"/><circle cx="11.5" cy="71" r="8.3"/><circle cx="7.5" cy="81.5" r="8.3"/><circle cx="77" cy="112" r="8.3"/><circle cx="82.5" cy="102.5" r="8.3"/></g>
<g transform="translate(108,0) scale(-1,1)"><line x1="14" y1="77" x2="77" y2="106" stroke="#000" stroke-width="13" stroke-linecap="round"/><circle cx="11.5" cy="71" r="8.3"/><circle cx="7.5" cy="81.5" r="8.3"/><circle cx="77" cy="112" r="8.3"/><circle cx="82.5" cy="102.5" r="8.3"/></g>
<path d="M54,0 C74,0 89,10 89,33 L88,57 L84,67 L71,71 L70,81 L62,84 L46,84 L39,81 L38,71 L24,67 L20,57 L20,33 C20,10 34,0 54,0 Z" stroke="#fff" stroke-width="3.2" paint-order="stroke"/>
<ellipse cx="38" cy="49" rx="8.5" ry="7" fill="#fff" transform="rotate(-12 38 49)"/>
<ellipse cx="70" cy="49" rx="8.5" ry="7" fill="#fff" transform="rotate(12 70 49)"/>
<polygon points="54,56 49.5,67 58.5,67" fill="#fff"/>
</g>
<g fill="#000">
<path d="M1555,68 Q1555,65 1558,65 L1567,65 Q1570,65 1570,68 L1570,100 L1576,102 L1606,132 L1606,156 L1578,156 L1555,126 Z"/>
<path d="M1671,68 Q1671,65 1668,65 L1659,65 Q1655,65 1655,69 L1653,84 L1656,100 L1650,102 L1619,132 L1619,156 L1649,156 L1671,122 Z"/>
<rect x="1569" y="154" width="38" height="33" rx="5"/>
<rect x="1619" y="154" width="37" height="33" rx="5"/>
<path d="M1609,150 L1618,150 L1620,158 L1617,192 L1612,195 L1607,192 L1608,158 Z"/>
<rect x="1577" y="185" width="72" height="7" rx="2"/>
<rect x="1576" y="161.5" width="27" height="4.5" fill="#fff"/><rect x="1576" y="174.5" width="26" height="4.5" fill="#fff"/>
<rect x="1624" y="161.5" width="25" height="4.5" fill="#fff"/><rect x="1623" y="174.5" width="25" height="4.5" fill="#fff"/>
<polygon points="1613,157 1616.5,157 1612.5,187 1609.5,187" fill="#fff"/>
</g>
<rect x="1063.7" y="258" width="652.3" height="535" fill="#dceef6"/>
<text x="1082.5" y="300.0" font-size="22" font-weight="bold" fill="#231f20" text-anchor="start" textLength="157.3" lengthAdjust="spacingAndGlyphs" stroke="#231f20" stroke-width="0.55">Kidnappings</text>
<text x="1082.5" y="323.8" font-size="18" font-weight="bold" fill="#231f20" text-anchor="start" textLength="180.0" lengthAdjust="spacingAndGlyphs" stroke="#231f20" stroke-width="0.55">(Sept - Dec 2022)</text>
<g fill="#000"><circle cx="1313.2" cy="295" r="24.5"/><path d="M1283,324.8 H1343 Q1356.8,324.8 1356.8,339 V356 L1359.5,358 V386 L1356.8,388 V411 Q1356.8,419 1349,419 H1277.5 Q1269.6,419 1269.6,411 V388 L1266.5,386 V358 L1269.6,356 V339 Q1269.6,324.8 1283,324.8 Z"/><path d="M1286.5,410 H1341.8 V486 Q1341.8,497.5 1330,497.5 H1327 Q1315.4,497.5 1315.4,486 V428 H1310.9 V486 Q1310.9,497.5 1299,497.5 H1298 Q1286.5,497.5 1286.5,486 Z"/><rect x="1304.8" y="300.2" width="18.6" height="6.3" fill="#fff"/></g>
<circle cx="1546" cy="417" r="146" fill="#fff"/>
<circle cx="1546" cy="417" r="131" fill="#2e6d94"/>
<path d="M1417.19,440.87 A131,131 0 0 1 1447.89,330.20 L1546.00,417.00 A0,0 0 0 0 1546.00,417.00 Z" fill="#8ccfee"/>
<circle cx="1546" cy="417" r="63.5" fill="#fff"/>
<text x="1616.5" y="320.8" font-size="20.5" font-weight="bold" fill="#231f20" text-anchor="start" textLength="70.5" lengthAdjust="spacingAndGlyphs" stroke="#fff" stroke-width="3.5" paint-order="stroke" stroke-linejoin="round">North</text>
<text x="1617.5" y="346.6" font-size="29.5" font-weight="bold" fill="#231f20" text-anchor="start" textLength="67.5" lengthAdjust="spacingAndGlyphs" stroke="#fff" stroke-width="3.5" paint-order="stroke" stroke-linejoin="round">85%</text>
<text x="1393.0" y="383.0" font-size="20.5" font-weight="bold" fill="#231f20" text-anchor="start" textLength="72.5" lengthAdjust="spacingAndGlyphs" stroke="#fff" stroke-width="3.5" paint-order="stroke" stroke-linejoin="round">South</text>
<text x="1405.5" y="411.0" font-size="29.5" font-weight="bold" fill="#231f20" text-anchor="start" textLength="57.8" lengthAdjust="spacingAndGlyphs" stroke="#fff" stroke-width="3.5" paint-order="stroke" stroke-linejoin="round">15%</text>
<text x="1511.7" y="401.4" font-size="19" font-weight="bold" fill="#231f20" text-anchor="start" textLength="67.3" lengthAdjust="spacingAndGlyphs" stroke="#231f20" stroke-width="0.55">TOTAL</text>
<text x="1505.0" y="439.8" font-size="35.5" font-weight="bold" fill="#231f20" text-anchor="start" textLength="86.0" lengthAdjust="spacingAndGlyphs" stroke="#231f20" stroke-width="0.55">1,321</text>
<line x1="1090" y1="635" x2="1696" y2="635" stroke="#231f20" stroke-width="1.8"/>
<rect x="1139" y="551.6" width="57.0" height="82.9" fill="#2e6d94"/>
<rect x="1254" y="553" width="57.0" height="81.5" fill="#2e6d94"/>
<rect x="1368.5" y="594" width="59.0" height="40.5" fill="#2e6d94"/>
<rect x="1485" y="598" width="57.0" height="36.5" fill="#2e6d94"/>
<rect x="1599.7" y="612.7" width="57.3" height="21.8" fill="#2e6d94"/>
<line x1="1224" y1="590" x2="1224" y2="675" stroke="#231f20" stroke-width="1.6"/>
<line x1="1338.7" y1="590" x2="1338.7" y2="675" stroke="#231f20" stroke-width="1.6"/>
<line x1="1455.7" y1="590" x2="1455.7" y2="675" stroke="#231f20" stroke-width="1.6"/>
<line x1="1570.4" y1="590" x2="1570.4" y2="675" stroke="#231f20" stroke-width="1.6"/>
<text x="1147.0" y="539.0" font-size="19" font-weight="bold" fill="#231f20" text-anchor="start" textLength="38.0" lengthAdjust="spacingAndGlyphs" stroke="#231f20" stroke-width="0.55">256</text>
<text x="1262.6" y="543.0" font-size="19" font-weight="bold" fill="#231f20" text-anchor="start" textLength="38.0" lengthAdjust="spacingAndGlyphs" stroke="#231f20" stroke-width="0.55">246</text>
<text x="1378.5" y="586.0" font-size="19" font-weight="bold" fill="#231f20" text-anchor="start" textLength="30.0" lengthAdjust="spacingAndGlyphs" stroke="#231f20" stroke-width="0.55">127</text>
<text x="1495.2" y="592.0" font-size="19" font-weight="bold" fill="#231f20" text-anchor="start" textLength="29.0" lengthAdjust="spacingAndGlyphs" stroke="#231f20" stroke-width="0.55">116</text>
<text x="1616.0" y="610.3" font-size="19" font-weight="bold" fill="#231f20" text-anchor="start" textLength="26.0" lengthAdjust="spacingAndGlyphs" stroke="#231f20" stroke-width="0.55">74</text>
<text x="1131.0" y="671.4" font-size="19" font-weight="bold" fill="#231f20" text-anchor="start" textLength="71.6" lengthAdjust="spacingAndGlyphs" stroke="#231f20" stroke-width="0.55">Kaduna</text>
<text x="1241.7" y="673.3" font-size="19" font-weight="bold" fill="#231f20" text-anchor="start" textLength="79.3" lengthAdjust="spacingAndGlyphs" stroke="#231f20" stroke-width="0.55">Zamfara</text>
<text x="1370.8" y="673.3" font-size="19" font-weight="bold" fill="#231f20" text-anchor="start" textLength="51.7" lengthAdjust="spacingAndGlyphs" stroke="#231f20" stroke-width="0.55">Niger</text>
<text x="1477.0" y="673.0" font-size="19" font-weight="bold" fill="#231f20" text-anchor="start" textLength="70.0" lengthAdjust="spacingAndGlyphs" stroke="#231f20" stroke-width="0.55">Katsina</text>
<text x="1593.8" y="675.3" font-size="19" font-weight="bold" fill="#231f20" text-anchor="start" textLength="66.2" lengthAdjust="spacingAndGlyphs" stroke="#231f20" stroke-width="0.55">Sokoto</text>
<text x="1084.0" y="705.4" font-size="19" font-weight="bold" fill="#231f20" text-anchor="start" textLength="110.0" lengthAdjust="spacingAndGlyphs" stroke="#231f20" stroke-width="0.55">Yobe, Osun</text>
<text x="1199.5" y="705.4" font-size="19" font-weight="normal" fill="#231f20" text-anchor="start" textLength="34.5" lengthAdjust="spacingAndGlyphs">and</text>
<text x="1239.7" y="705.4" font-size="19" font-weight="bold" fill="#231f20" text-anchor="start" textLength="58.7" lengthAdjust="spacingAndGlyphs" stroke="#231f20" stroke-width="0.55">Lagos</text>
<text x="1303.5" y="705.4" font-size="19" font-weight="normal" fill="#231f20" text-anchor="start" textLength="286.5" lengthAdjust="spacingAndGlyphs">had the least reported cases of</text>
<text x="1084.0" y="728.0" font-size="19" font-weight="normal" fill="#231f20" text-anchor="start" textLength="142.8" lengthAdjust="spacingAndGlyphs">abduction with</text>
<text x="1230.7" y="728.0" font-size="19" font-weight="bold" fill="#231f20" text-anchor="start" textLength="7.9" lengthAdjust="spacingAndGlyphs" stroke="#231f20" stroke-width="0.55">1</text>
<text x="1243.7" y="728.0" font-size="19" font-weight="normal" fill="#231f20" text-anchor="start" textLength="48.1" lengthAdjust="spacingAndGlyphs">each.</text>
<text x="1082.5" y="754.3" font-size="19" font-weight="bold" fill="#231f20" text-anchor="start" textLength="131.0" lengthAdjust="spacingAndGlyphs" stroke="#231f20" stroke-width="0.55">Kano, Gombe</text>
<text x="1219.0" y="754.3" font-size="19" font-weight="normal" fill="#231f20" text-anchor="start" textLength="35.2" lengthAdjust="spacingAndGlyphs">and</text>
<text x="1260.5" y="754.3" font-size="19" font-weight="bold" fill="#231f20" text-anchor="start" textLength="43.0" lengthAdjust="spacingAndGlyphs" stroke="#231f20" stroke-width="0.55">Abia</text>
<text x="1310.0" y="754.3" font-size="19" font-weight="normal" fill="#231f20" text-anchor="start" textLength="35.4" lengthAdjust="spacingAndGlyphs">had</text>
<text x="1352.0" y="754.3" font-size="19" font-weight="bold" fill="#231f20" text-anchor="start" textLength="11.0" lengthAdjust="spacingAndGlyphs" stroke="#231f20" stroke-width="0.55">2</text>
<text x="1366.5" y="754.3" font-size="19" font-weight="normal" fill="#231f20" text-anchor="start" textLength="195.2" lengthAdjust="spacingAndGlyphs">reported abductions.</text>
<text x="1567.0" y="754.3" font-size="19" font-weight="bold" fill="#231f20" text-anchor="start" textLength="68.0" lengthAdjust="spacingAndGlyphs" stroke="#231f20" stroke-width="0.55">Jigawa</text>
<text x="1640.8" y="754.3" font-size="19" font-weight="normal" fill="#231f20" text-anchor="start" textLength="35.2" lengthAdjust="spacingAndGlyphs">had</text>
<text x="1680.7" y="754.3" font-size="19" font-weight="bold" fill="#231f20" text-anchor="start" textLength="16.8" lengthAdjust="spacingAndGlyphs" stroke="#231f20" stroke-width="0.55">3.</text>
<text x="1082.5" y="776.6" font-size="19" font-weight="bold" fill="#231f20" text-anchor="start" textLength="68.5" lengthAdjust="spacingAndGlyphs" stroke="#231f20" stroke-width="0.55">Bauchi</text>
<text x="1156.4" y="776.6" font-size="19" font-weight="normal" fill="#231f20" text-anchor="start" textLength="62.6" lengthAdjust="spacingAndGlyphs">having</text>
<text x="1224.5" y="776.6" font-size="19" font-weight="bold" fill="#231f20" text-anchor="start" textLength="11.3" lengthAdjust="spacingAndGlyphs" stroke="#231f20" stroke-width="0.55">2</text>
<text x="1241.7" y="776.6" font-size="19" font-weight="normal" fill="#231f20" text-anchor="start" textLength="34.3" lengthAdjust="spacingAndGlyphs">and</text>
<text x="1282.0" y="776.6" font-size="19" font-weight="bold" fill="#231f20" text-anchor="start" textLength="63.4" lengthAdjust="spacingAndGlyphs" stroke="#231f20" stroke-width="0.55">Imo, 5.</text>
<text x="1061.7" y="825.2" font-size="20" font-weight="bold" fill="#231f20" text-anchor="start" textLength="436.3" lengthAdjust="spacingAndGlyphs" stroke="#231f20" stroke-width="0.55">Number of police killed (Sept - Dec 2022)</text>
<text x="1063.7" y="867.3" font-size="18" font-weight="normal" fill="#231f20" text-anchor="start" textLength="47.7" lengthAdjust="spacingAndGlyphs">Total:</text>
<text x="1117.4" y="867.3" font-size="18" font-weight="bold" fill="#231f20" text-anchor="start" textLength="23.1" lengthAdjust="spacingAndGlyphs" stroke="#231f20" stroke-width="0.55">47</text>
<line x1="1251.5" y1="897.2" x2="1714" y2="897.2" stroke="#231f20" stroke-width="1.5"/>
<line x1="1432.6" y1="884.5" x2="1432.6" y2="937.5" stroke="#231f20" stroke-width="1.5"/>
<line x1="1506.6" y1="884.5" x2="1506.6" y2="937.5" stroke="#231f20" stroke-width="1.5"/>
<line x1="1569.6" y1="884.5" x2="1569.6" y2="937.5" stroke="#231f20" stroke-width="1.5"/>
<line x1="1619.3" y1="884.5" x2="1619.3" y2="937.5" stroke="#231f20" stroke-width="1.5"/>
<line x1="1661.5" y1="884.5" x2="1661.5" y2="937.5" stroke="#231f20" stroke-width="1.5"/>
<circle cx="1358.3" cy="897.7" r="61.5" fill="#8ccfee"/>
<circle cx="1468.6" cy="897.7" r="24" fill="#8ccfee"/>
<circle cx="1537.9" cy="897.7" r="19" fill="#8ccfee"/>
<circle cx="1593.8" cy="897.7" r="11.3" fill="#8ccfee"/>
<circle cx="1641.6" cy="897.7" r="8.8" fill="#8ccfee"/>
<text x="1346.3" y="904.0" font-size="20" font-weight="bold" fill="#231f20" text-anchor="start" textLength="24.0" lengthAdjust="spacingAndGlyphs" stroke="#231f20" stroke-width="0.55">24</text>
<text x="1463.1" y="904.0" font-size="20" font-weight="bold" fill="#231f20" text-anchor="start" textLength="11.0" lengthAdjust="spacingAndGlyphs" stroke="#231f20" stroke-width="0.55">9</text>
<text x="1532.4" y="904.0" font-size="20" font-weight="bold" fill="#231f20" text-anchor="start" textLength="11.0" lengthAdjust="spacingAndGlyphs" stroke="#231f20" stroke-width="0.55">7</text>
<text x="1587.8" y="904.0" font-size="20" font-weight="bold" fill="#231f20" text-anchor="start" textLength="12.0" lengthAdjust="spacingAndGlyphs" stroke="#231f20" stroke-width="0.55">4</text>
<text x="1636.1" y="904.0" font-size="20" font-weight="bold" fill="#231f20" text-anchor="start" textLength="11.0" lengthAdjust="spacingAndGlyphs" stroke="#231f20" stroke-width="0.55">3</text>
<text x="1675.0" y="904.0" font-size="20" font-weight="bold" fill="#231f20" text-anchor="start" textLength="12.0" lengthAdjust="spacingAndGlyphs" stroke="#231f20" stroke-width="0.55">0</text>
<text x="1343.0" y="936.0" font-size="18" font-weight="normal" fill="#231f20" text-anchor="start" textLength="31.0" lengthAdjust="spacingAndGlyphs">SW</text>
<text x="1451.8" y="936.0" font-size="18" font-weight="normal" fill="#231f20" text-anchor="start" textLength="32.2" lengthAdjust="spacingAndGlyphs">NW</text>
<text x="1525.0" y="936.0" font-size="18" font-weight="normal" fill="#231f20" text-anchor="start" textLength="24.6" lengthAdjust="spacingAndGlyphs">SS</text>
<text x="1584.0" y="936.0" font-size="18" font-weight="normal" fill="#231f20" text-anchor="start" textLength="25.5" lengthAdjust="spacingAndGlyphs">NC</text>
<text x="1625.0" y="936.0" font-size="18" font-weight="normal" fill="#231f20" text-anchor="start" textLength="31.4" lengthAdjust="spacingAndGlyphs">SW</text>
<text x="1668.0" y="936.0" font-size="18" font-weight="normal" fill="#231f20" text-anchor="start" textLength="27.5" lengthAdjust="spacingAndGlyphs">NE</text>
<line x1="1054.7" y1="962.3" x2="1716.3" y2="962.3" stroke="#231f20" stroke-width="1.6"/>
<text x="1422.5" y="987.5" font-size="18.5" font-weight="normal" fill="#231f20" text-anchor="start" textLength="138.0" lengthAdjust="spacingAndGlyphs">Data compiled</text>
<text x="1564.7" y="987.5" font-size="18.5" font-weight="bold" fill="#231f20" text-anchor="start" textLength="154.3" lengthAdjust="spacingAndGlyphs" stroke="#231f20" stroke-width="0.55">Haruna Ibrahim</text>
<g fill="#000"><ellipse cx="1089.3" cy="911.5" rx="16" ry="19"/><polygon points="1102.5,888 1109,885.5 1116.8,882 1124,880.5 1131.9,878.2 1136,879 1138.8,882.6 1139,886.5 1159.7,886.5 1165,893 1171.5,901.5 1221.2,902.9 1224.8,908.7 1223.5,914 1220,917.5 1213,922 1163.2,924 1114.5,924 1100,922.8"/><polygon points="1123,927 1133,927 1136,929.3 1150,929.8 1156.5,933.5 1159.2,940.5 1147,942.3 1165,946 1171.5,948.3 1171.5,951.8 1166,954.7 1135,954.7 1132.5,951.8 1113,952.2 1104,950 1110,948 1132,945.3 1134,942.3 1123,941 1123,937.2 1132,936.8 1131,932.2 1123,931.2"/><rect x="1141" y="938.5" width="5" height="2" fill="#fff"/><rect x="1118.5" y="899.5" width="4.5" height="2" fill="#fff"/><path d="M1176,928 a7.3,7.3 0 1 0 0.1,0 Z M1174.5,931.5 l4,3 -5,4 -2.500,-3 Z" fill-rule="evenodd"/><path d="M1203.8,933.8 a7,7 0 1 0 0.1,0 Z M1203,937 a3.6,3.8 0 1 1 -0.1,0 Z" fill-rule="evenodd"/><path d="M1180,939 L1187,943 L1197.500,938.5 L1199,941.5 L1187,946.500 L1179,942 Z"/></g>
</svg>
</body></html>
